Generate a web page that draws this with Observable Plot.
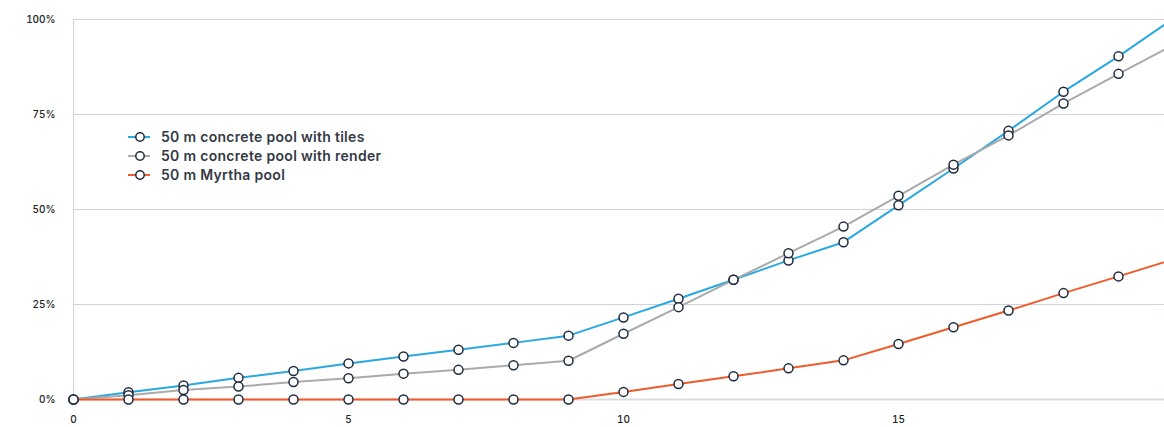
<!DOCTYPE html>
<html>
<head>
<meta charset="utf-8">
<script src="https://cdn.jsdelivr.net/npm/d3@7"></script>
<script src="https://cdn.jsdelivr.net/npm/@observablehq/plot@0.6"></script>
<style>
  html, body { margin: 0; padding: 0; background: #fff; }
  #wrap { position: relative; width: 1164px; height: 427px; overflow: hidden; font-family: Inter, "Noto Sans", sans-serif; }
  #legend { position: absolute; left: 127px; top: 127px; font-size: 14px; font-weight: 600; letter-spacing: 0.3px; color: #333a44; }
  #legend .row { display: flex; align-items: center; height: 19px; }
  #legend svg { margin-right: 10px; }
</style>
</head>
<body>
<div id="wrap"><div id="chart"></div><div id="legend"></div></div>
<script>
const years = [0,1,2,3,4,5,6,7,8,9,10,11,12,13,14,15,16,17,18,19,20];
const seriesNames = ["50 m concrete pool with tiles", "50 m concrete pool with render", "50 m Myrtha pool"];
const seriesColors = ["#2aa8e0", "#aaaaaa", "#f15a2a"];
const tiles  = [0,1.9,3.7,5.7,7.5,9.5,11.3,13.1,14.9,16.8,21.6,26.5,31.5,36.6,41.4,51.1,60.8,70.7,81.0,90.3,100.3];
const render = [0,1.1,2.5,3.4,4.6,5.6,6.8,7.8,9.0,10.2,17.3,24.3,31.5,38.5,45.5,53.6,61.8,69.5,77.9,85.7,93.3];
const myrtha = [0,0,0,0,0,0,0,0,0,0,2.0,4.1,6.1,8.2,10.3,14.6,19.0,23.4,28.0,32.4,36.9];
const yTicks = [0,25,50,75,100];
const xTicks = [0,5,10,15];

const allSeries = [tiles, render, myrtha];
const data = [];
allSeries.forEach((vals, si) => vals.forEach((v, i) => data.push({x: years[i], y: v, s: seriesNames[si]})));

const W = 1164, H = 427, mL = 73, mR = 0, mT = 19, mB = 28;
const xMax = 20 * (W - mL - mR) / (1173 - mL);

const chart = Plot.plot({
  width: W, height: H,
  marginLeft: mL, marginRight: mR, marginTop: mT, marginBottom: mB,
  style: {fontFamily: "Inter, 'Noto Sans', sans-serif", fontSize: "10px", fontWeight: 500, color: "#222", background: "#fff", overflow: "hidden"},
  x: {domain: [0, xMax], ticks: xTicks, tickSize: 0, tickPadding: 16, label: null},
  y: {domain: [0, 100], ticks: yTicks, tickSize: 0, tickPadding: 18, tickFormat: d => d + "%", label: null},
  color: {domain: seriesNames, range: seriesColors},
  marks: [
    Plot.gridY(yTicks.filter(d => d > 0), {stroke: "#cfd3dc", strokeOpacity: 1, strokeWidth: 1}),
    Plot.ruleX([0], {stroke: "#cfd3dc", strokeWidth: 1}),
    Plot.ruleY([0], {stroke: "#d9dde2", strokeWidth: 2}),
    Plot.axisX({ticks: xTicks, tickSize: 0, tickPadding: 16, fill: "#222"}),
    Plot.axisY({ticks: yTicks, tickSize: 0, tickPadding: 18, tickFormat: d => d + "%", fill: "#222"}),
    Plot.line(data, {x: "x", y: "y", z: "s", stroke: "s", strokeWidth: 2}),
    Plot.dot(data.filter(d => d.x <= xMax), {x: "x", y: "y", r: 4.5, fill: "white", stroke: "#1f2b3c", strokeWidth: 1.5})
  ]
});
document.getElementById("chart").appendChild(chart);

const legend = document.getElementById("legend");
seriesNames.forEach((name, i) => {
  const row = document.createElement("div");
  row.className = "row";
  row.innerHTML = `<svg width="24" height="12"><line x1="1" y1="6" x2="23" y2="6" stroke="${seriesColors[i]}" stroke-width="2"/><circle cx="13" cy="6" r="4.2" fill="white" stroke="#1f2b3c" stroke-width="1.5"/></svg><span>${name}</span>`;
  legend.appendChild(row);
});
</script>
</body>
</html>
